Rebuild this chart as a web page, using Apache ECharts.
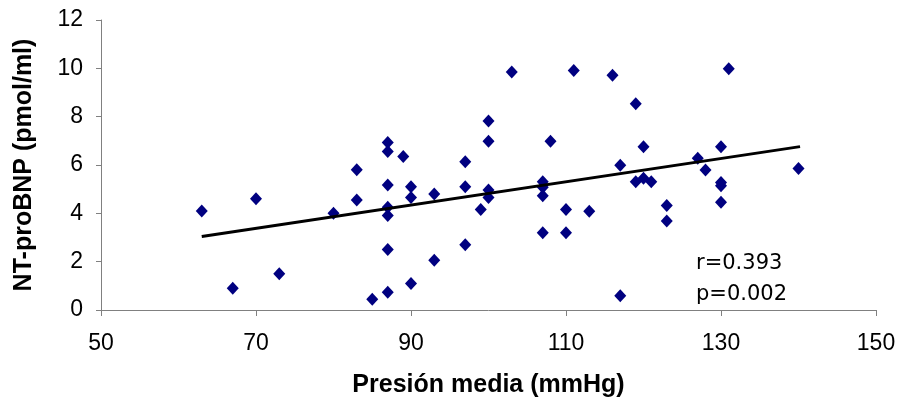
<!DOCTYPE html>
<html>
<head>
<meta charset="utf-8">
<script src="https://cdn.jsdelivr.net/npm/echarts@6/dist/echarts.min.js"></script>
<style>
html,body{margin:0;padding:0;background:#fff;}
#chart{width:902px;height:403px;}
</style>
</head>
<body>
<div id="chart"></div>
<script>
// Presión media (mmHg)
var presion = [63,67,70,73,80,83,83,85,87,87,87,87,87,87,87,89,90,90,90,93,93,97,97,97,99,100,100,100,100,103,107,107,107,107,108,110,110,111,113,116,117,117,119,119,120,120,121,123,123,127,128,130,130,130,130,131,140];
// NT-proBNP (pmol/ml)
var ntprobnp = [4.1,0.9,4.6,1.5,4.0,5.8,4.55,0.45,0.73,2.5,3.91,4.25,5.17,6.56,6.93,6.35,5.1,4.66,1.1,4.8,2.06,6.13,5.1,2.7,4.16,7.82,6.98,4.97,4.66,9.85,5.31,5.08,4.73,3.2,6.98,4.16,3.2,9.91,4.09,9.71,5.99,0.59,8.53,5.31,6.76,5.45,5.31,4.32,3.68,6.28,5.79,6.76,5.28,5.14,4.46,9.98,5.86];
// trend line end points (x, y)
var trendX = [63, 140.2];
var trendY = [3.04, 6.76];
var xTicks = [50,70,90,110,130,150];
var yTicks = [0,2,4,6,8,10,12];
var statText = ['r=0.393', 'p=0.002'];

var points = presion.map(function(x,i){return [x, ntprobnp[i]];});
var trend = trendX.map(function(x,i){return [x, trendY[i]];});

var chart = echarts.init(document.getElementById('chart'), null, {renderer:'canvas'});
chart.setOption({
  animation:false,
  backgroundColor:'#ffffff',
  grid:{left:101, right:26, top:20, bottom:91, containLabel:false},
  xAxis:{
    type:'value', min:xTicks[0], max:xTicks[xTicks.length-1],
    name:'Presión media (mmHg)', nameLocation:'middle', nameGap:63,
    nameTextStyle:{fontFamily:'Liberation Sans', fontWeight:'bold', fontSize:25, color:'#000'},
    axisLine:{show:true, lineStyle:{color:'#808080', width:1}},
    axisTick:{show:true, length:6, customValues:xTicks, lineStyle:{color:'#808080'}},
    axisLabel:{customValues:xTicks, margin:22, fontFamily:'Liberation Sans', fontSize:23, color:'#000'},
    splitLine:{show:false}
  },
  yAxis:{
    type:'value', min:yTicks[0], max:yTicks[yTicks.length-1], interval:2,
    name:'NT-proBNP (pmol/ml)', nameLocation:'middle', nameGap:64,
    nameTextStyle:{fontFamily:'Liberation Sans', fontWeight:'bold', fontSize:25, color:'#000'},
    axisLine:{show:true, lineStyle:{color:'#808080', width:1}},
    axisTick:{show:true, length:5, lineStyle:{color:'#808080'}},
    axisLabel:{margin:18, fontFamily:'Liberation Sans', fontSize:23, color:'#000'},
    splitLine:{show:false}
  },
  series:[
    {type:'line', data:trend, symbol:'none', lineStyle:{color:'#000', width:3}, z:3, silent:true},
    {type:'scatter', data:points, symbol:'diamond', symbolSize:[12,13], itemStyle:{color:'#000080', opacity:1}, z:2}
  ],
  graphic:[
    {type:'text', left:696, top:253, style:{text:statText[0], font:'21px "DejaVu Sans"', fill:'#000'}},
    {type:'text', left:696, top:284, style:{text:statText[1], font:'21px "DejaVu Sans"', fill:'#000'}}
  ]
});
</script>
</body>
</html>
